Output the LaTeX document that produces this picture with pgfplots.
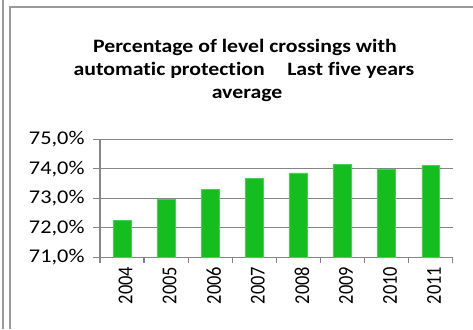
\documentclass[border=0pt]{standalone}
\usepackage{pgfplots}
\pgfplotsset{compat=1.18}
\usepackage{fontspec}
\setmainfont{Carlito}[Ligatures=CommonOff]
\definecolor{barg}{RGB}{20,190,30}
\definecolor{axg}{RGB}{134,134,134}
\definecolor{frg}{RGB}{155,155,155}
\begin{document}
\scalebox{1.15}[1]{%
\begin{tikzpicture}[x=1bp,y=1bp]
\useasboundingbox (0,0) rectangle (411.3,329);
\draw[frg, line width=2bp] (2.6,0) -- (2.6,329);
\draw[frg, line width=2bp] (8.7,0) -- (8.7,322) -- (411.3,322);
\begin{scope}[every node/.style={font=\fontsize{19}{23}\selectfont\bfseries, inner sep=0pt}]
\node[anchor=base] at (213,277) {Percentage of level crossings with};
\node[anchor=base east] at (230.4,254) {automatic protection};
\node[anchor=base west] at (249.6,254) {Last five years};
\node[anchor=base] at (214.8,231) {average};
\end{scope}
\begin{axis}[
  at={(87bp,71.7bp)}, anchor=south west,
  scale only axis, width=306.7bp, height=118bp,
  xmin=-0.5, xmax=7.5, ymin=71, ymax=75,
  axis lines=left, axis line style={-, axg, line width=1.2bp},
  ytick={71,72,73,74,75},
  yticklabels={{71,0\%},{72,0\%},{73,0\%},{74,0\%},{75,0\%}},
  ymajorgrids, grid style={axg, line width=1.2bp},
  xtick={0,...,7},
  xticklabels={2004,2005,2006,2007,2008,2009,2010,2011},
  minor xtick={-0.5,0.5,...,7.5},
  tick align=outside,
  major tick length=6bp, minor tick length=6bp,
  tick style={axg, line width=1.2bp},
  major x tick style={draw=none},
  yticklabel style={font=\fontsize{19.5}{21}\selectfont, xshift=-4bp},
  xticklabel style={font=\fontsize{18.5}{21}\selectfont, rotate=90, anchor=east, yshift=-3bp},
  clip=true,
]
\addplot[ybar, bar width=0.4, fill=barg, draw=barg!75!white, line width=0.6bp] coordinates {
(0,72.26) (1,72.97) (2,73.31) (3,73.68) (4,73.86) (5,74.15) (6,74.00) (7,74.12)
};
\end{axis}
\end{tikzpicture}}
\end{document}
